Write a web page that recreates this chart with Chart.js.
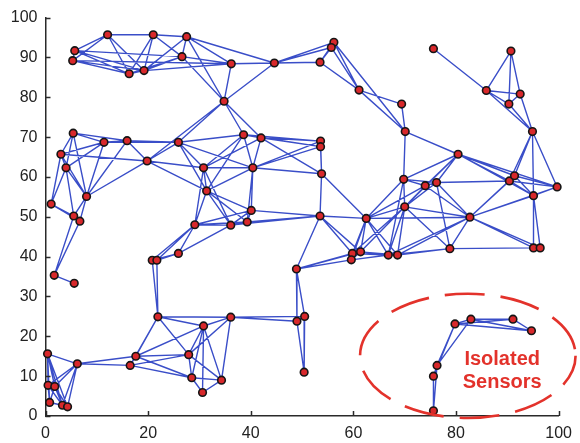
<!DOCTYPE html>
<html>
<head>
<meta charset="utf-8">
<script src="https://cdn.jsdelivr.net/npm/chart.js@4.4.0/dist/chart.umd.min.js"></script>
<style>
  html, body { margin: 0; padding: 0; background: #ffffff; }
  #wrap { width: 580px; height: 443px; }
</style>
</head>
<body>
<div id="wrap"><canvas id="c" width="580" height="443"></canvas></div>
<script>
// Sensor node positions (field units, 0-100)
const nodeX = [
  5.7, 5.3, 12.1, 21.0, 27.5, 26.6, 16.3, 19.2, 36.2, 44.6,
  53.5, 56.2, 55.7, 61.1, 34.8, 38.6, 42.0, 53.6, 53.6, 5.4,
  11.4, 15.9, 25.9, 3.0, 4.0, 19.8, 30.8, 31.4, 8.0, 1.1,
  5.5, 6.7, 29.1, 25.9, 20.8, 21.7, 1.7, 5.6, 40.4, 53.8,
  40.1, 39.3, 36.1, 53.5, 62.5, 48.9, 59.8, 61.4, 59.6, 66.8,
  68.6, 69.8, 70.0, 74.0, 76.2, 80.4, 90.4, 91.4, 99.7, 95.1,
  82.7, 78.8, 95.1, 96.4, 75.6, 90.7, 85.9, 92.5, 90.3, 94.9,
  69.4, 70.1, 21.9, 30.8, 27.9, 17.6, 16.5, 28.5, 30.6, 36.1,
  34.3, 49.0, 50.5, 50.4, 0.4, 6.2, 0.5, 1.8, 0.8, 3.3,
  4.3, 75.6, 75.6, 76.3, 79.8, 82.9, 91.1, 94.7
];
const nodeY = [
  91.7, 89.2, 95.7, 95.7, 95.2, 90.2, 85.9, 86.7, 88.4, 88.6,
  88.8, 93.8, 92.5, 81.8, 79.0, 70.6, 69.8, 69.0, 67.6, 71.0,
  68.7, 69.1, 68.7, 65.7, 62.3, 64.0, 62.3, 56.5, 55.1, 53.2,
  50.2, 48.9, 48.0, 40.8, 39.1, 39.1, 35.3, 33.3, 62.3, 60.8,
  51.6, 48.7, 47.9, 50.2, 49.6, 36.9, 40.8, 41.2, 39.2, 40.4,
  40.4, 59.4, 52.5, 57.8, 58.6, 65.7, 59.0, 60.3, 57.5, 55.3,
  49.9, 42.0, 42.2, 42.2, 92.2, 91.6, 81.7, 80.8, 78.3, 71.4,
  78.3, 71.4, 24.9, 22.6, 15.4, 15.0, 12.7, 9.6, 5.9, 24.8,
  9.0, 23.8, 25.0, 11.0, 15.6, 13.1, 7.7, 7.4, 3.4, 2.7,
  2.3, 1.3, 10.0, 12.7, 23.1, 24.3, 24.3, 21.4
];

// Radio links between sensors, as node index pairs
const edgeFrom = [
  0, 1, 0, 2, 3, 4, 2, 2, 3, 3, 3, 4, 0, 0, 1, 1, 0, 1, 6, 5, 5, 4, 5, 4, 5, 7, 4,
  8, 9, 9, 9, 10, 10, 11, 11, 12, 10, 13, 11, 13, 8, 9, 14, 14, 14, 14,
  15, 15, 16, 16, 15, 17, 18, 16, 15, 15, 16, 15, 22,
  19, 19, 20, 21, 20, 19, 19, 20, 20, 20, 21, 21, 22, 22, 22, 25, 23, 23, 24, 24, 24,
  28, 28, 29, 29, 30, 28, 23, 30, 31, 36, 23, 19,
  26, 26, 27, 27, 27, 27, 26, 26, 27, 32, 32, 32, 40, 40, 41, 32, 32, 32, 33, 33, 34, 33, 25, 22,
  38, 38, 38, 38, 38, 16, 39, 39, 39, 40, 41, 42, 43, 43, 43, 43, 44, 44, 44, 45, 45, 45,
  46, 46, 47, 46, 47, 48, 47, 44, 44, 44, 44, 44, 44,
  49, 49, 50, 46, 47, 49, 51, 51, 51, 52, 52, 53, 51, 53, 54, 52, 55, 55, 54, 53, 54, 52,
  52, 50, 49, 60, 60, 60, 60, 60, 60, 60, 61, 56, 56, 57, 56, 57, 58, 59, 59, 62, 50, 49,
  54, 55, 51, 70, 69, 69, 69, 69, 55, 55,
  64, 65, 65, 65, 66, 66, 67, 66, 67, 68,
  34, 35, 72, 72, 72, 72, 73, 73, 73, 73, 74, 74, 75, 75, 76, 74, 77, 72, 73, 79, 73, 74,
  77, 78, 79, 79, 81, 81, 82, 45, 45, 74,
  84, 85, 85, 84, 84, 84, 84, 84, 85, 85, 85, 85, 86, 86, 87, 87, 88, 89, 86, 87,
  91, 91, 92, 92, 93, 93, 94, 94, 95, 95, 96, 94
];
const edgeTo = [
  2, 2, 1, 3, 4, 5, 6, 7, 6, 7, 5, 7, 6, 7, 6, 7, 5, 8, 7, 6, 7, 8, 8, 14, 14, 8, 9,
  9, 10, 11, 12, 11, 12, 12, 13, 13, 13, 70, 71, 71, 14, 14, 15, 16, 22, 25,
  16, 17, 17, 18, 18, 18, 39, 38, 38, 26, 26, 27, 15,
  20, 21, 21, 22, 22, 23, 24, 23, 24, 28, 28, 25, 25, 26, 27, 26, 24, 28, 28, 29, 30,
  30, 31, 30, 31, 31, 25, 25, 36, 36, 37, 29, 28,
  27, 38, 38, 40, 41, 42, 42, 32, 32, 40, 41, 42, 41, 42, 42, 33, 34, 35, 34, 35, 35, 42, 27, 38,
  39, 40, 41, 18, 17, 39, 43, 44, 17, 43, 43, 43, 44, 46, 47, 45, 46, 47, 48, 46, 47, 48,
  47, 48, 48, 49, 49, 49, 50, 52, 51, 53, 49, 50, 60,
  50, 52, 52, 52, 52, 51, 52, 53, 54, 53, 54, 54, 55, 55, 55, 55, 56, 57, 56, 60, 60, 60,
  61, 61, 61, 61, 56, 57, 59, 58, 62, 63, 62, 57, 58, 58, 59, 59, 59, 62, 63, 63, 60, 60,
  61, 71, 71, 71, 56, 57, 58, 59, 58, 59,
  66, 66, 67, 68, 67, 68, 68, 69, 69, 69,
  72, 72, 73, 74, 75, 76, 74, 75, 77, 78, 75, 77, 76, 77, 77, 76, 78, 79, 79, 80, 80, 80,
  80, 80, 81, 82, 82, 83, 83, 81, 82, 79,
  85, 76, 75, 86, 87, 88, 89, 90, 86, 87, 89, 90, 87, 88, 88, 89, 89, 90, 89, 90,
  92, 93, 93, 94, 94, 95, 95, 96, 96, 97, 97, 97
];

const xTicks = [0, 20, 40, 60, 80, 100];
const yTicks = [0, 10, 20, 30, 40, 50, 60, 70, 80, 90, 100];
const calloutLines = ['Isolated', 'Sensors'];

// Node points for the scatter layer
const nodes = nodeX.map((x, i) => ({ x: x, y: nodeY[i] }));

// Link segments: each pair followed by a null point so the line breaks
const links = [];
edgeFrom.forEach((a, k) => {
  const b = edgeTo[k];
  links.push({ x: nodeX[a], y: nodeY[a] });
  links.push({ x: nodeX[b], y: nodeY[b] });
  links.push({ x: nodeX[b], y: null });
});

const AXIS_COLOR = '#2a2a2a';

// Inward tick marks on the left and bottom axes
const inwardTicks = {
  id: 'inwardTicks',
  afterDraw(chart) {
    const { ctx, chartArea, scales } = chart;
    ctx.save();
    ctx.strokeStyle = AXIS_COLOR;
    ctx.lineWidth = 1.5;
    ctx.beginPath();
    scales.x.ticks.forEach(t => {
      const px = Math.round(scales.x.getPixelForValue(t.value)) + 0.5;
      ctx.moveTo(px, chartArea.bottom);
      ctx.lineTo(px, chartArea.bottom - 5);
    });
    scales.y.ticks.forEach(t => {
      const py = Math.round(scales.y.getPixelForValue(t.value)) + 0.5;
      ctx.moveTo(chartArea.left, py);
      ctx.lineTo(chartArea.left + 5, py);
    });
    ctx.stroke();
    ctx.restore();
  }
};

// Dashed ellipse and caption around the disconnected group
const callout = {
  id: 'callout',
  afterDraw(chart) {
    const { ctx, scales } = chart;
    const xs = scales.x, ys = scales.y;
    const cx = xs.getPixelForValue(82.3), cy = ys.getPixelForValue(15.1);
    const rx = xs.getPixelForValue(82.3 + 21.0) - cx;
    const ry = cy - ys.getPixelForValue(15.1 + 15.6);
    ctx.save();
    ctx.strokeStyle = '#e3322b';
    ctx.lineWidth = 2.6;
    ctx.setLineDash([40, 16]);
    ctx.lineDashOffset = 8;
    ctx.beginPath();
    ctx.ellipse(cx, cy, rx, ry, 0, 0, Math.PI * 2);
    ctx.stroke();
    ctx.setLineDash([]);
    ctx.fillStyle = '#e3322b';
    ctx.font = 'bold 20px "Liberation Sans", Arial, sans-serif';
    ctx.textAlign = 'center';
    ctx.textBaseline = 'alphabetic';
    const tx = xs.getPixelForValue(89.0);
    ctx.fillText(calloutLines[0], tx, ys.getPixelForValue(12.7));
    ctx.fillText(calloutLines[1], tx, ys.getPixelForValue(7.0));
    ctx.restore();
  }
};

Chart.defaults.font.family = '"Liberation Sans", Arial, sans-serif';
Chart.defaults.font.size = 16;
Chart.defaults.color = '#222222';

new Chart(document.getElementById('c'), {
  type: 'scatter',
  data: {
    datasets: [
      {
        label: 'sensors',
        data: nodes,
        order: 0,
        pointRadius: 3.8,
        pointHoverRadius: 3.8,
        pointBackgroundColor: '#d8282b',
        pointBorderColor: '#151515',
        pointBorderWidth: 1.6,
        showLine: false,
        clip: false
      },
      {
        label: 'links',
        data: links,
        order: 1,
        showLine: true,
        spanGaps: false,
        pointRadius: 0,
        pointHoverRadius: 0,
        borderColor: '#3a4ec8',
        borderWidth: 1.4,
        clip: false
      }
    ]
  },
  options: {
    responsive: false,
    animation: false,
    devicePixelRatio: 1,
    layout: { padding: { top: 13, right: 16.5, left: 0, bottom: 0 } },
    plugins: { legend: { display: false }, tooltip: { enabled: false } },
    scales: {
      x: {
        type: 'linear',
        min: 0, max: 100,
        afterBuildTicks: s => { s.ticks = xTicks.map(v => ({ value: v })); },
        afterFit: s => { s.height = 27; },
        grid: { display: false, drawTicks: false },
        border: { display: true, color: AXIS_COLOR, width: 1.5 },
        ticks: { padding: 8, maxRotation: 0, autoSkip: false, color: '#222' }
      },
      y: {
        type: 'linear',
        min: 0, max: 100,
        afterBuildTicks: s => { s.ticks = yTicks.map(v => ({ value: v })); },
        afterFit: s => { s.width = 45.5; },
        grid: { display: false, drawTicks: false },
        border: { display: true, color: AXIS_COLOR, width: 1.5 },
        ticks: { padding: 8, autoSkip: false, color: '#222' }
      }
    }
  },
  plugins: [inwardTicks, callout]
});
</script>
</body>
</html>
